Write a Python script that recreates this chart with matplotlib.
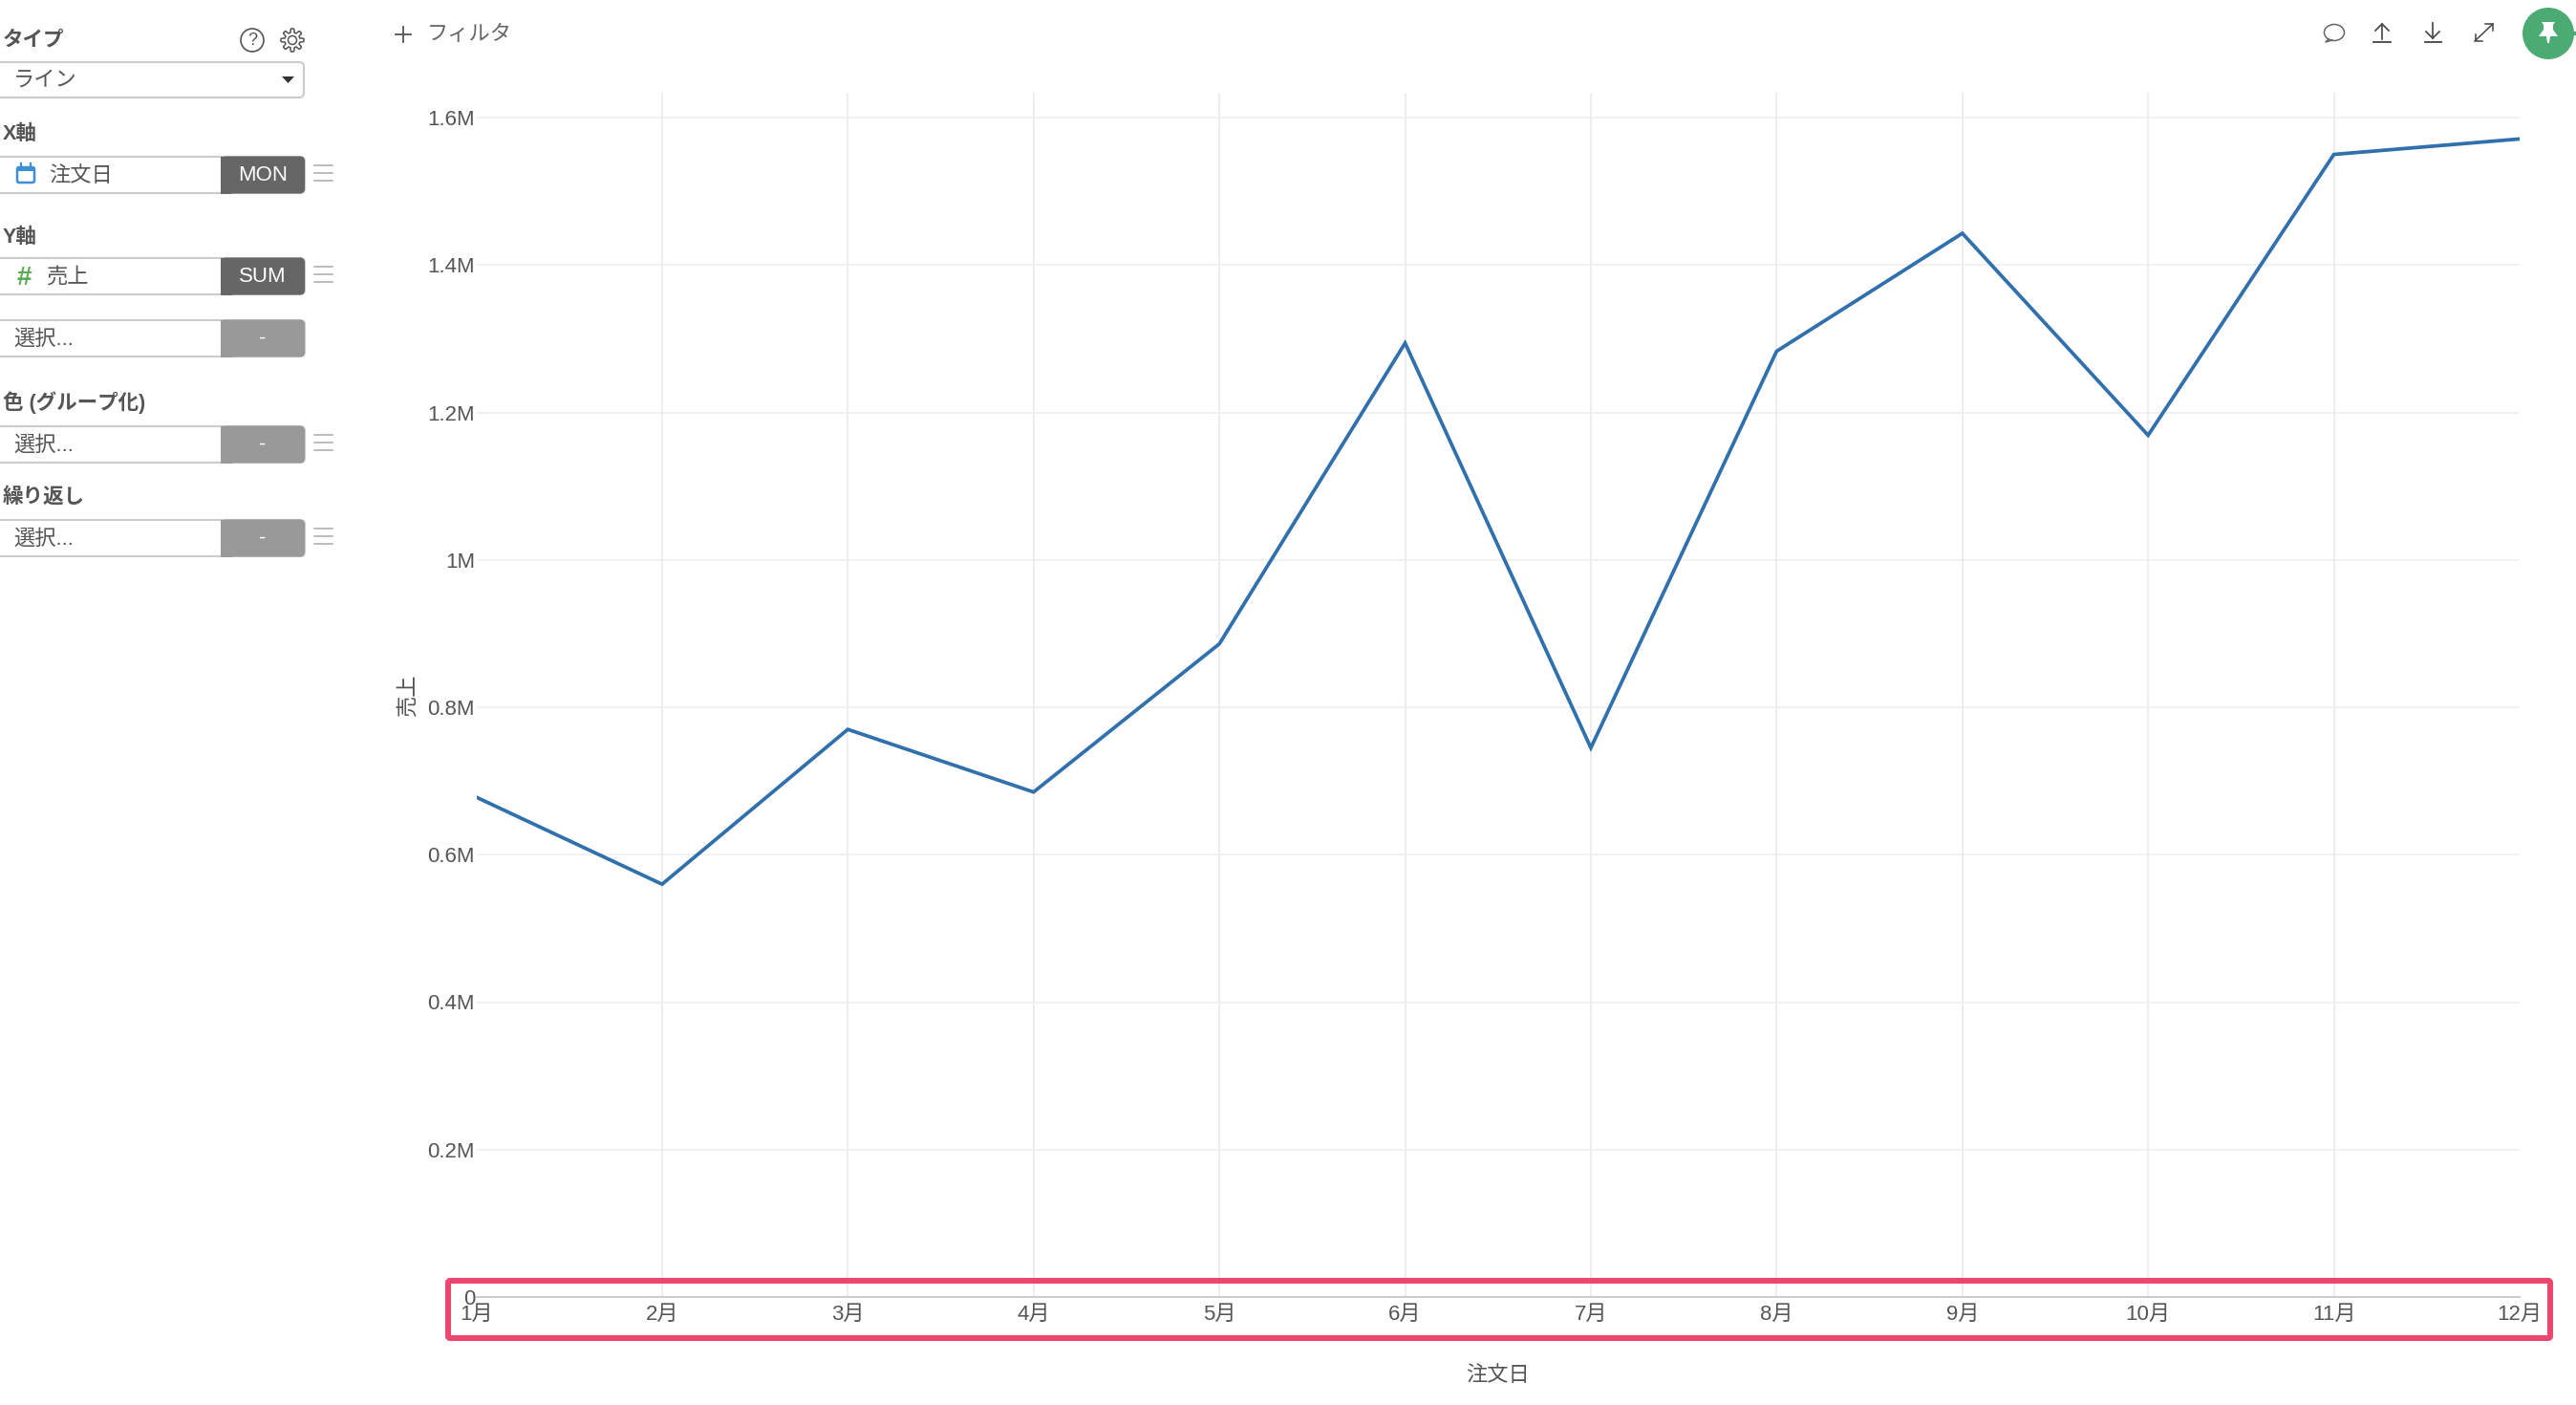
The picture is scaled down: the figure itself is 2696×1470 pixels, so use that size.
import matplotlib
matplotlib.use('Agg')
import matplotlib.pyplot as plt
from matplotlib.patches import Circle, Ellipse, FancyBboxPatch, Polygon, Rectangle
import numpy as np

# 月別の売上
months = ['1月', '2月', '3月', '4月', '5月', '6月', '7月', '8月', '9月', '10月', '11月', '12月']
sales = [678000, 560000, 770000, 685000, 886000, 1294000,
         745000, 1283000, 1443000, 1169000, 1550000, 1571000]
y_ticks = [0, 200000, 400000, 600000, 800000, 1000000, 1200000, 1400000, 1600000]
y_tick_labels = ['0', '0.2M', '0.4M', '0.6M', '0.8M', '1M', '1.2M', '1.4M', '1.6M']
x_title = '注文日'
y_title = '売上'

W, H = 2696, 1470
FONT = ['Liberation Sans', 'Noto Sans CJK JP', 'DejaVu Sans']
TEXT = '#555555'
GRID = '#eeeeee'
plt.rcParams['font.family'] = FONT


def field(ax, top, left_text, btn_text, btn_color, menu=True, icon_x=None):
    # サイドバーの入力欄とボタン
    mid = top + 19
    ax.add_patch(FancyBboxPatch((-4, top), 323, 38, boxstyle='round,pad=0,rounding_size=5',
                                fc='white', ec='#cccccc', lw=1.5))
    ax.add_patch(FancyBboxPatch((231, top - 0.5), 88, 39, boxstyle='round,pad=0,rounding_size=5',
                                fc=btn_color, ec='none'))
    ax.add_patch(Rectangle((231, top - 0.5), 12, 39, fc=btn_color, ec='none'))
    ax.text(icon_x if icon_x else 14, mid + 1, left_text, fontsize=16, color=TEXT, va='center', ha='left')
    ax.text(275, mid, btn_text, fontsize=16, color='white', va='center', ha='center')
    if menu:
        for dy in (-8, 0, 8):
            ax.plot([329, 348], [mid - 2 + dy] * 2, color='#aaaaaa', lw=1.1)


def draw_sidebar(ax):
    labels = [('タイプ', 42), ('X軸', 140), ('Y軸', 248), ('色 (グループ化)', 421), ('繰り返し', 520)]
    for text, y in labels:
        ax.text(3, y, text, fontsize=15.5, fontweight='bold', color=TEXT, va='center', ha='left')

    # タイプの選択欄
    ax.add_patch(FancyBboxPatch((-4, 65), 322, 37, boxstyle='round,pad=0,rounding_size=5',
                                fc='white', ec='#cccccc', lw=1.5))
    ax.text(14, 84, 'ライン', fontsize=16, color=TEXT, va='center', ha='left')
    ax.add_patch(Polygon([[295, 80], [308, 80], [301.5, 87]], fc='#333333', ec='none'))

    # ヘルプと設定のアイコン
    ax.add_patch(Circle((264, 42), 12, fc='none', ec=TEXT, lw=1.2))
    ax.text(264, 42, '?', fontsize=13, color=TEXT, va='center', ha='center')
    t = np.linspace(0, 2 * np.pi, 161)
    r = 10 + 2 * np.clip(2.2 * np.cos(8 * t), -1, 1)
    ax.add_patch(Polygon(np.c_[306 + r * np.cos(t), 42 + r * np.sin(t)], fc='none', ec=TEXT, lw=1.1))
    ax.add_patch(Circle((306, 42), 4.5, fc='none', ec=TEXT, lw=1.1))

    field(ax, 164, '注文日', 'MON', '#666666', icon_x=51)
    field(ax, 270, '売上', 'SUM', '#666666', icon_x=49)
    field(ax, 335, '選択...', '-', '#999999', menu=False)
    field(ax, 446, '選択...', '-', '#999999')
    field(ax, 544, '選択...', '-', '#999999')

    # カレンダーと # のアイコン
    ax.add_patch(FancyBboxPatch((18, 175), 18, 16, boxstyle='round,pad=0,rounding_size=2',
                                fc='white', ec='#3d8fd6', lw=1.8))
    ax.add_patch(Rectangle((18, 175), 18, 4, fc='#3d8fd6', ec='none'))
    for x in (22, 32):
        ax.plot([x, x], [171, 176], color='#3d8fd6', lw=1.6)
    ax.text(25, 291, '#', fontsize=20, fontweight='bold', color='#5cab55', va='center', ha='center')


def draw_toolbar(ax):
    ax.plot([414, 430], [36, 36], color=TEXT, lw=1.3)
    ax.plot([422, 422], [28, 44], color=TEXT, lw=1.3)
    ax.text(447, 36, 'フィルタ', fontsize=16, color='#666666', va='center', ha='left')

    # コメント
    ax.add_patch(Ellipse((2443, 34), 21, 17, fc='none', ec='#666666', lw=1.1))
    ax.plot([2437, 2434, 2441], [41, 44, 42], color='#666666', lw=1.1)
    # アップロード / ダウンロード
    ax.plot([2484, 2502], [43.5, 43.5], color='#444444', lw=1.3)
    ax.plot([2493, 2493], [25, 41], color='#444444', lw=1.2)
    ax.plot([2486, 2493, 2500], [32, 25, 32], color='#444444', lw=1.2)
    ax.plot([2538, 2555], [43.5, 43.5], color='#444444', lw=1.3)
    ax.plot([2546, 2546], [24, 40], color='#444444', lw=1.2)
    ax.plot([2539, 2546, 2553], [33, 40, 33], color='#444444', lw=1.2)
    # 拡大
    ax.plot([2590, 2609], [43, 25], color='#444444', lw=1.1)
    ax.plot([2591, 2591, 2598], [36, 43, 43], color='#444444', lw=1.1)
    ax.plot([2601, 2609, 2609], [25, 25, 32], color='#444444', lw=1.1)
    # ピン
    ax.add_patch(Circle((2667, 35), 27, fc='#4caa73', ec='none'))
    ax.add_patch(Rectangle((2692, 33), 4, 4, fc='#4caa73', ec='none'))
    ax.add_patch(Polygon([[2660, 23], [2674, 23], [2672, 26], [2672, 31], [2677, 38], [2669, 38],
                          [2668, 45], [2666, 45], [2665, 38], [2657, 38], [2662, 31], [2662, 26]],
                         fc='white', ec='none'))


def main():
    fig = plt.figure(figsize=(W / 100, H / 100), dpi=100, facecolor='white')

    # グラフ本体
    left, right, top, bottom = 498.5, 2637, 97, 1357
    ax = fig.add_axes([left / W, 1 - bottom / H, (right - left) / W, (bottom - top) / H])
    ax.plot(range(len(months)), sales, color='#3070ac', lw=2.7, solid_joinstyle='miter', zorder=3)
    ax.set_xlim(0, len(months) - 1)
    ax.set_ylim(0, 1600000 * (bottom - top) / 1234)
    ax.set_xticks(range(len(months)))
    ax.set_xticklabels(months)
    ax.set_yticks(y_ticks)
    ax.set_yticklabels(y_tick_labels)
    ax.tick_params(axis='both', length=0, labelsize=16, labelcolor=TEXT)
    ax.tick_params(axis='x', pad=5.5)
    ax.tick_params(axis='y', pad=1)
    ax.grid(axis='x', color=GRID, lw=1.4)
    ax.grid(axis='y', color=GRID, lw=1.1)
    # 両端の縦線は元の図にない
    ax.get_xgridlines()[0].set_visible(False)
    ax.get_xgridlines()[-1].set_visible(False)
    ax.set_axisbelow(True)
    for name in ('top', 'right', 'left'):
        ax.spines[name].set_visible(False)
    ax.spines['bottom'].set_color('#c8c8c8')
    ax.spines['bottom'].set_linewidth(1.3)
    ax.set_xlabel(x_title, fontsize=16, color=TEXT, labelpad=31)
    ax.set_ylabel(y_title, fontsize=16, color=TEXT, labelpad=7)

    # サイドバーなどの画面部品(ピクセル座標)
    ui = fig.add_axes([0, 0, 1, 1], zorder=5)
    ui.set_xlim(0, W)
    ui.set_ylim(H, 0)
    ui.axis('off')
    ui.patch.set_alpha(0)
    draw_sidebar(ui)
    draw_toolbar(ui)
    # 赤い枠
    ui.add_patch(FancyBboxPatch((469, 1340), 2200, 60, boxstyle='round,pad=0,rounding_size=2',
                                fc='none', ec='#ec4670', lw=4.3))

    fig.savefig('out.png', dpi=100)


if __name__ == "__main__":
    main()
